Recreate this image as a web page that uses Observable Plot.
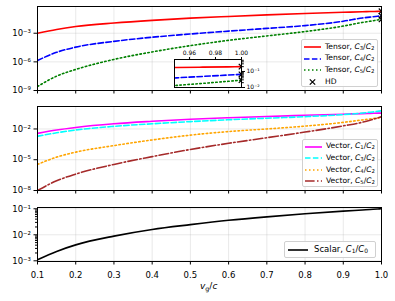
<!DOCTYPE html>
<html><head><meta charset="utf-8">
<script src="https://cdn.jsdelivr.net/npm/d3@7"></script>
<script src="https://cdn.jsdelivr.net/npm/@observablehq/plot@0.6"></script>
<style>
html,body{margin:0;padding:0;background:#fff;}
#wrap{position:relative;width:395px;height:301px;overflow:hidden;font-family:"DejaVu Sans",sans-serif;color:#000;}
#wrap svg{position:absolute;left:0;top:0;}
.legend{position:absolute;box-sizing:border-box;background:rgba(255,255,255,0.85);border:1px solid #d0d0d0;border-radius:2px;}
.legend .lab{position:absolute;white-space:nowrap;line-height:1;}
.legend sub{font-size:70%;vertical-align:-0.25em;line-height:0;}
.xlab{position:absolute;font-size:9px;white-space:nowrap;}
.xlab sub{font-size:70%;vertical-align:-0.25em;line-height:0;}
</style></head>
<body><div id="wrap"></div>
<script>
// ---------- data ----------
const vg = [0.1, 0.15, 0.2, 0.3, 0.4, 0.5, 0.6, 0.7, 0.8, 0.9, 0.95, 0.97, 0.99, 1.0];
// Tensor ratios
const tensorC3 = [1.0e-3, 2.5e-3, 5.0e-3, 1.17e-2, 2.24e-2, 3.8e-2, 5.75e-2, 8.3e-2, 0.115, 0.155, 0.178, 0.186, 0.195, 0.2];
const tensorC4 = [1.4e-6, 1.0e-5, 3.5e-5, 1.4e-4, 3.8e-4, 8.3e-4, 1.66e-3, 3.2e-3, 6.3e-3, 0.018, 0.04, 0.049, 0.06, 0.0667];
const tensorC5 = [2.6e-9, 3.2e-8, 1.6e-7, 1.8e-6, 1.1e-5, 5.0e-5, 1.8e-4, 5.2e-4, 1.5e-3, 5.6e-3, 1.35e-2, 1.8e-2, 2.45e-2, 2.86e-2];
// HD limit
const hdX = [1.0, 1.0, 1.0];
const hdY = [0.2, 0.0667, 0.0286];
// Vector ratios
const vectorC1 = [3.7e-3, 7.9e-3, 1.4e-2, 3.2e-2, 5.6e-2, 8.9e-2, 0.126, 0.166, 0.214, 0.275, 0.316, 0.331, 0.347, 0.355];
const vectorC3 = [1.95e-3, 4.2e-3, 7.9e-3, 1.8e-2, 3.2e-2, 5.2e-2, 7.9e-2, 0.112, 0.158, 0.25, 0.355, 0.43, 0.52, 0.59];
const vectorC4 = [3.5e-6, 1.8e-5, 5.5e-5, 2.4e-4, 8.5e-4, 2.5e-3, 5.6e-3, 1.0e-2, 1.9e-2, 4.4e-2, 7.6e-2, 9.5e-2, 0.117, 0.132];
const vectorC5 = [1.0e-8, 8.9e-8, 4.0e-7, 3.5e-6, 2.0e-5, 1.0e-4, 4.0e-4, 1.4e-3, 5.0e-3, 2.0e-2, 4.5e-2, 7.1e-2, 0.12, 0.158];
// Scalar ratio
const scalarC1 = [1.1e-3, 2.3e-3, 4.1e-3, 8.9e-3, 1.6e-2, 2.45e-2, 3.6e-2, 4.9e-2, 6.4e-2, 8.1e-2, 9.0e-2, 9.4e-2, 9.8e-2, 0.1];
// ticks
const xTicks = [0.1, 0.2, 0.3, 0.4, 0.5, 0.6, 0.7, 0.8, 0.9, 1.0];
const yTicksTensor = [1e-9, 1e-6, 1e-3];
const yTicksVector = [1e-8, 1e-5, 1e-2];
const yTicksScalar = [1e-3, 1e-2, 1e-1];
const insetXTicks = [0.96, 0.98, 1.00];
const insetYTicks = [1e-2, 1e-1];

// ---------- helpers ----------
const W = 395, H = 301;
const supMap = {"-":"\u207B","0":"\u2070","1":"\u00B9","2":"\u00B2","3":"\u00B3","4":"\u2074","5":"\u2075","6":"\u2076","7":"\u2077","8":"\u2078","9":"\u2079"};
const sup = d => "10" + String(Math.round(Math.log10(d))).split("").map(c => supMap[c]).join("");
const rows = ys => vg.map((x, i) => ({x, y: ys[i]}));
const hd = hdX.map((x, i) => ({x, y: hdY[i]}));
const minorTicks = (lo, hi) => { const t = []; for (let e = lo; e < hi; e++) for (let k = 2; k <= 9; k++) t.push(k * Math.pow(10, e)); return t; };

const series = {
  tC3: {data: tensorC3, stroke: "#ff0000", dash: null},
  tC4: {data: tensorC4, stroke: "#0000ff", dash: "5.5,2.4"},
  tC5: {data: tensorC5, stroke: "#008000", dash: "1.5,2.5"},
  vC1: {data: vectorC1, stroke: "#ff00ff", dash: null},
  vC3: {data: vectorC3, stroke: "#00ffff", dash: "5.5,2.4"},
  vC4: {data: vectorC4, stroke: "#ffa500", dash: "1.5,2.5"},
  vC5: {data: vectorC5, stroke: "#a52a2a", dash: "9.6,2.4,1.5,2.4"},
  sC1: {data: scalarC1, stroke: "#000000", dash: null}
};
const lineMark = k => Plot.line(rows(series[k].data), {x: "x", y: "y", stroke: series[k].stroke, strokeWidth: 1.6, strokeDasharray: series[k].dash, curve: "monotone-x", clip: true});

function panel(o) {
  return Plot.plot({
    width: W, height: H,
    marginLeft: 37, marginRight: 14, marginTop: o.top, marginBottom: H - o.bottom,
    style: {background: "transparent", fontFamily: "DejaVu Sans, sans-serif", fontSize: "8.5px", color: "black", overflow: "visible"},
    x: {domain: [0.1, 1.0]},
    y: {type: "log", domain: o.yDomain},
    marks: [
      Plot.gridX(xTicks, {stroke: "#b0b0b0", strokeOpacity: 0.35, strokeWidth: 0.8}),
      Plot.gridY(o.yTicks, {stroke: "#b0b0b0", strokeOpacity: 0.35, strokeWidth: 0.8}),
      ...o.marks,
      Plot.frame({stroke: "black", strokeWidth: 1}),
      Plot.axisX(xTicks, {tickSize: 3.5, tickPadding: 6.5, tickFormat: o.xLabels ? d3.format(".1f") : () => "", label: null}),
      Plot.axisY(o.yTicks, {tickSize: 3.5, tickPadding: 3, tickFormat: sup, label: null}),
      ...(o.minor ? [Plot.axisY(o.minor, {tickSize: 2, tickFormat: () => "", label: null})] : [])
    ]
  });
}

const wrap = document.getElementById("wrap");

wrap.appendChild(panel({
  top: 6, bottom: 90, yDomain: [1e-9, 0.63], yTicks: yTicksTensor,
  marks: [lineMark("tC3"), lineMark("tC4"), lineMark("tC5"),
    Plot.dot(hd, {x: "x", y: "y", symbol: "times", r: 2.6, stroke: "black", strokeWidth: 1.2, clip: true})]
}));
wrap.appendChild(panel({
  top: 106, bottom: 190, yDomain: [1e-8, 1.55], yTicks: yTicksVector,
  marks: [lineMark("vC1"), lineMark("vC3"), lineMark("vC4"), lineMark("vC5")]
}));
wrap.appendChild(panel({
  top: 207, bottom: 261, yDomain: [9.4e-4, 0.112], yTicks: yTicksScalar, xLabels: true,
  minor: minorTicks(-4, -1).filter(d => d >= 9.4e-4 && d <= 0.112),
  marks: [lineMark("sC1")]
}));

// inset (zoom near v_g/c = 1)
wrap.appendChild(Plot.plot({
  width: W, height: H,
  marginLeft: 174, marginRight: W - 241, marginTop: 59, marginBottom: H - 87,
  style: {background: "transparent", fontFamily: "DejaVu Sans, sans-serif", fontSize: "6px", color: "black", overflow: "visible"},
  x: {domain: [0.9485, 1.0]},
  y: {type: "log", domain: [1e-2, 0.56]},
  marks: [
    Plot.frame({fill: "white", stroke: null}),
    lineMark("tC3"), lineMark("tC4"), lineMark("tC5"),
    Plot.dot(hd, {x: "x", y: "y", symbol: "times", r: 2.6, stroke: "black", strokeWidth: 1.2, clip: true}),
    Plot.frame({stroke: "black", strokeWidth: 1}),
    Plot.axisX(insetXTicks, {anchor: "top", tickSize: 3, tickPadding: 2, tickFormat: d3.format(".2f"), label: null}),
    Plot.axisY(insetYTicks, {anchor: "right", tickSize: 3, tickPadding: 2, tickFormat: sup, label: null}),
    Plot.axisY(minorTicks(-2, 0).filter(d => d <= 0.56), {anchor: "right", tickSize: 1.8, tickFormat: () => "", label: null})
  ]
}));

// ---------- legends ----------
const legTensor = [
  {k: "tC3", html: "Tensor, <i>C</i><sub>3</sub>/<i>C</i><sub>2</sub>"},
  {k: "tC4", html: "Tensor, <i>C</i><sub>4</sub>/<i>C</i><sub>2</sub>"},
  {k: "tC5", html: "Tensor, <i>C</i><sub>5</sub>/<i>C</i><sub>2</sub>"},
  {k: "hd", html: "HD"}
];
const legVector = [
  {k: "vC1", html: "Vector, <i>C</i><sub>1</sub>/<i>C</i><sub>2</sub>"},
  {k: "vC3", html: "Vector, <i>C</i><sub>3</sub>/<i>C</i><sub>2</sub>"},
  {k: "vC4", html: "Vector, <i>C</i><sub>4</sub>/<i>C</i><sub>2</sub>"},
  {k: "vC5", html: "Vector, <i>C</i><sub>5</sub>/<i>C</i><sub>2</sub>"}
];
const legScalar = [{k: "sC1", html: "Scalar, <i>C</i><sub>1</sub>/<i>C</i><sub>0</sub>"}];

function legend(items, box, opt) {
  const div = document.createElement("div");
  div.className = "legend";
  Object.assign(div.style, {left: box[0] + "px", top: box[1] + "px", width: (box[2] - box[0]) + "px", height: (box[3] - box[1]) + "px"});
  items.forEach((it, i) => {
    const cy = opt.firstRow + i * opt.rowH;
    const s = document.createElementNS("http://www.w3.org/2000/svg", "svg");
    s.setAttribute("width", opt.sampleW + 4); s.setAttribute("height", 10);
    s.style.left = (opt.sampleX - 2) + "px"; s.style.top = (cy - 5) + "px"; s.style.position = "absolute";
    if (it.k === "hd") {
      const c = opt.sampleW / 2 + 2;
      s.innerHTML = `<path d="M${c-2.7},2.3L${c+2.7},7.7M${c-2.7},7.7L${c+2.7},2.3" stroke="black" stroke-width="1.2"/>`;
    } else {
      const sr = series[it.k];
      s.innerHTML = `<line x1="2" x2="${opt.sampleW + 2}" y1="5" y2="5" stroke="${sr.stroke}" stroke-width="1.6" ${sr.dash ? `stroke-dasharray="${sr.dash}"` : ""}/>`;
    }
    div.appendChild(s);
    const t = document.createElement("div");
    t.className = "lab";
    t.innerHTML = it.html;
    Object.assign(t.style, {left: opt.textX + "px", top: (cy - opt.fs * 0.55) + "px", fontSize: opt.fs + "px"});
    div.appendChild(t);
  });
  wrap.appendChild(div);
}
legend(legTensor, [301, 39, 378, 87], {firstRow: 7, rowH: 11.6, sampleX: 2, sampleW: 17, textX: 23, fs: 7.6});
legend(legVector, [302, 139, 378, 187], {firstRow: 6.5, rowH: 11.6, sampleX: 2, sampleW: 17, textX: 23, fs: 7.6});
legend(legScalar, [284, 241, 376, 258], {firstRow: 8, rowH: 12, sampleX: 3, sampleW: 20, textX: 29, fs: 8.5});

const xl = document.createElement("div");
xl.className = "xlab";
xl.innerHTML = "<i>v</i><sub>g</sub>/<i>c</i>";
Object.assign(xl.style, {left: "200px", top: "281px"});
wrap.appendChild(xl);
</script>
</body></html>
